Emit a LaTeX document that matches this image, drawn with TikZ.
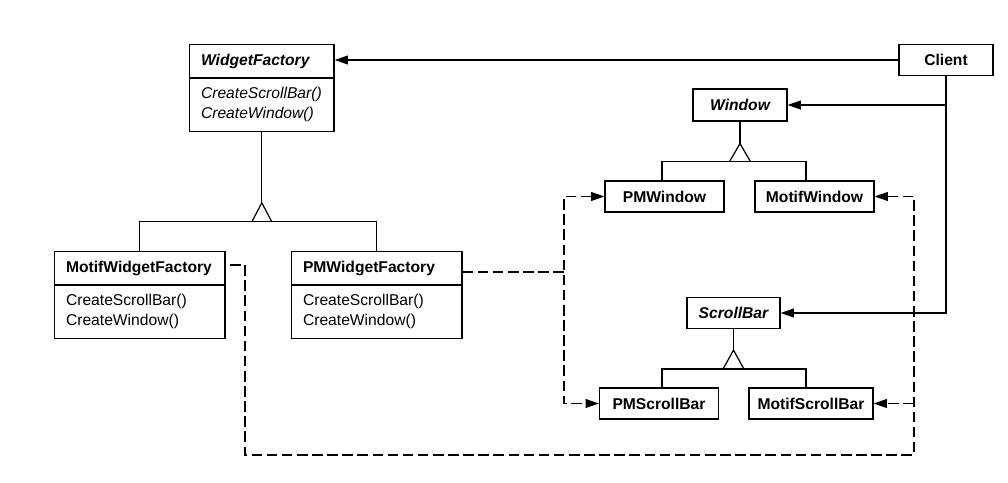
\documentclass[tikz,border=0pt]{standalone}
\usepackage{fontspec}
\setmainfont{Liberation Sans}
\usetikzlibrary{arrows.meta,shapes.multipart,calc}

\begin{document}
\begin{tikzpicture}[x=0.02cm, y=-0.02cm, line width=0.7pt,
  arrowto/.style={-{Triangle[length=7.5pt,width=5pt]}},
  arrowfrom/.style={{Triangle[length=7.5pt,width=5pt]}-},
  arrowboth/.style={{Triangle[length=7.5pt,width=5pt]}-{Triangle[length=7.5pt,width=5pt]}},
  depend/.style={dash pattern=on 6pt off 2.6pt},
  box/.style={draw, font=\fontsize{8.9}{11.3}\selectfont\bfseries, minimum height=0.62cm, inner sep=0pt},
  factory/.style={draw, rectangle split, rectangle split parts=2, text width=84pt, align=left,
    inner xsep=6.5pt, inner ysep=5pt, font=\fontsize{8.9}{11.3}\selectfont, anchor=north west}]
\useasboundingbox (0,0) rectangle (1008,483);

% factories
\node[factory, text width=69.2pt] (wf) at (189,44)
  {\textbf{\textit{WidgetFactory}}\nodepart{two}\itshape CreateScrollBar()\\CreateWindow()};
\node[factory] (mwf) at (54,251)
  {\textbf{MotifWidgetFactory}\nodepart{two}CreateScrollBar()\\CreateWindow()};
\node[factory] (pmwf) at (291,251)
  {\textbf{PMWidgetFactory}\nodepart{two}CreateScrollBar()\\CreateWindow()};

% products
\node[box, minimum width=1.88cm] (client) at (946,60) {Client};
\node[box, minimum width=1.88cm, minimum height=0.64cm] (win) at (740,105) {\itshape Window};
\node[box, minimum width=2.38cm] (pmwin) at (664.5,196.5) {PMWindow};
\node[box, minimum width=2.38cm] (motwin) at (814.5,196.5) {MotifWindow};
\node[box, minimum width=1.86cm] (sb) at (733.5,313) {\itshape ScrollBar};
\node[box, minimum width=2.38cm] (pmsb) at (659,403.5) {PMScrollBar};
\node[box, minimum width=2.48cm] (motsb) at (811,403.5) {MotifScrollBar};

% client
\draw[arrowto] (client.west) -- (client.west -| wf.east);
\draw[arrowto] (client.south) |- (sb.east);
\draw[arrowto] (client.south |- win.east) -- (win.east);

% inheritance
\coordinate (wfgen) at ($(wf.south)+(0,90)$);
\draw (wf.south) -- ($(wfgen)+(0,-19)$);
\draw ($(wfgen)+(-10,0)$) -- ($(wfgen)+(0,-19)$) -- ($(wfgen)+(10,0)$);
\draw (mwf.north) |- (wfgen) -| (pmwf.north);

\coordinate (wingen) at ($(win.south)+(0,40)$);
\draw (win.south) -- ($(wingen)+(0,-18)$);
\draw ($(wingen)+(-10.5,0)$) -- ($(wingen)+(0,-18)$) -- ($(wingen)+(10.5,0)$);
\draw ([xshift=-0.05cm]pmwin.north) |- (wingen) -| ([xshift=-0.17cm]motwin.north);

\coordinate (sbgen) at ($(sb.south)+(0,40)$);
\draw (sb.south) -- ($(sbgen)+(0,-19)$);
\draw ($(sbgen)+(-10.5,0)$) -- ($(sbgen)+(0,-19)$) -- ($(sbgen)+(10.5,0)$);
\draw ([xshift=0.06cm]pmsb.north) |- (sbgen) -| ([xshift=-0.1cm]motsb.north);

% creates
\coordinate (pmrail) at (564,272);
\draw[depend, arrowboth] (pmwin.west) -| (pmrail) |- (pmsb.west);
\draw[depend] (pmwf.north east |- pmrail) -- (pmrail);
\coordinate (motrail) at (914,455);
\coordinate (motcorner) at (245,455);
\draw[depend, arrowfrom] (motwin.east) -| (motrail) -- (motcorner) |- ([xshift=0.05cm,yshift=-0.28cm]mwf.north east);
\draw[depend, arrowto] (motrail |- motsb.east) -- (motsb.east);
\end{tikzpicture}
\end{document}
